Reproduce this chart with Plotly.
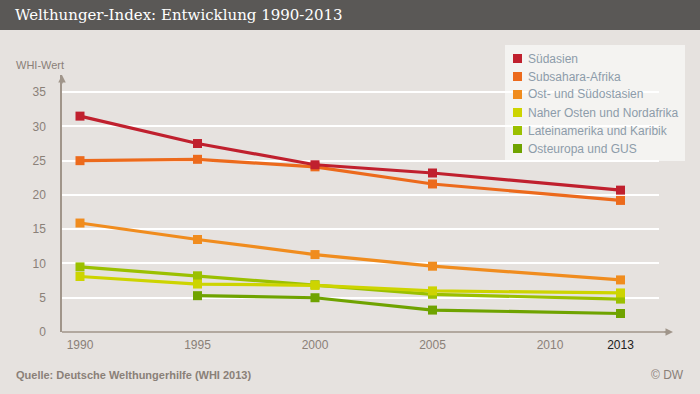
import plotly.graph_objects as go

years = [1990, 1995, 2000, 2005, 2013]
series_names = ["Südasien", "Subsahara-Afrika", "Ost- und Südostasien",
                "Naher Osten und Nordafrika", "Lateinamerika und Karibik", "Osteuropa und GUS"]
suedasien = [31.5, 27.5, 24.4, 23.2, 20.7]
subsahara = [25.0, 25.2, 24.1, 21.6, 19.2]
ostasien = [15.9, 13.5, 11.3, 9.6, 7.6]
nahost = [8.1, 7.0, 6.8, 6.0, 5.7]
lateinamerika = [9.5, 8.2, 6.9, 5.5, 4.8]
osteuropa = [None, 5.3, 5.0, 3.2, 2.7]
colors = ["#c0202e", "#ec6a1c", "#f08c1e", "#cdd400", "#9bc000", "#6fa300"]
x_tickvals = [1990, 1995, 2000, 2005, 2010, 2013]
x_ticktext = ["1990", "1995", "2000", "2005", "2010",
              "<span style='color:#222222'>2013</span>"]
y_tickvals = [0, 5, 10, 15, 20, 25, 30, 35]

all_values = [suedasien, subsahara, ostasien, nahost, lateinamerika, osteuropa]

BG = "#e6e2df"
AX = "#a0958a"
TXT = "#8a8078"
LEG_TXT = "#8d9caa"

fig = go.Figure()
for name, vals, col in reversed(list(zip(series_names, all_values, colors))):
    fig.add_trace(go.Scatter(
        x=years, y=vals, mode="lines+markers", name=name,
        line=dict(color=col, width=3.2),
        marker=dict(symbol="square", size=9, color=col),
        showlegend=False, connectgaps=False, hoverinfo="skip"))

L, R, T, B = 62, 41, 75, 62
W, H = 700, 394
pw, ph = W - L - R, H - T - B
def px(xp):
    return (xp - L) / pw
def py(yp):
    return (H - B - yp) / ph

shapes = [
    dict(type="rect", xref="paper", yref="paper", x0=px(0), x1=px(W), y0=py(30), y1=py(0),
         fillcolor="#5a5856", line=dict(width=0), layer="below"),
    dict(type="rect", xref="paper", yref="paper", x0=px(505), x1=px(685), y0=py(161), y1=py(45),
         fillcolor="#f4f3f1", line=dict(width=0), layer="below"),
    dict(type="line", xref="paper", yref="paper", x0=0, x1=px(668), y0=0, y1=0,
         line=dict(color=AX, width=1.5)),
]
annotations = [
    dict(xref="paper", yref="paper", x=px(13), y=py(15), xanchor="left", yanchor="middle",
         text="Welthunger-Index: Entwicklung 1990-2013", showarrow=False,
         font=dict(family="DejaVu Serif", size=15, color="#ffffff")),
    dict(xref="paper", yref="paper", x=px(14), y=py(65), xanchor="left", yanchor="middle",
         text="WHI-Wert", showarrow=False, font=dict(family="Liberation Sans", size=11, color=TXT)),
    dict(xref="paper", yref="paper", x=px(14), y=py(375), xanchor="left", yanchor="middle",
         text="<b>Quelle: Deutsche Welthungerhilfe (WHI 2013)</b>", showarrow=False,
         font=dict(family="Liberation Sans", size=11, color=TXT)),
    dict(xref="paper", yref="paper", x=px(686), y=py(375), xanchor="right", yanchor="middle",
         text="© DW", showarrow=False, font=dict(family="Liberation Sans", size=12, color=TXT)),
    dict(xref="paper", yref="paper", x=0, y=py(75), ax=0, ay=10, text="", showarrow=True,
         arrowhead=2, arrowsize=1, arrowwidth=1.5, arrowcolor=AX),
    dict(xref="paper", yref="paper", x=px(673), y=0, ax=-10, ay=0, text="", showarrow=True,
         arrowhead=2, arrowsize=1, arrowwidth=1.5, arrowcolor=AX),
]

# manual legend
row0, step = 58.5, 18
for i, (name, col) in enumerate(zip(series_names, colors)):
    cy = row0 + i * step
    shapes.append(dict(type="rect", xref="paper", yref="paper",
                       x0=px(513), x1=px(522), y0=py(cy + 4.5), y1=py(cy - 4.5),
                       fillcolor=col, line=dict(width=0), layer="above"))
    annotations.append(dict(xref="paper", yref="paper", x=px(526), y=py(cy), xanchor="left",
                            yanchor="middle", text=name, showarrow=False,
                            font=dict(family="Liberation Sans", size=12, color=LEG_TXT)))

fig.update_layout(
    width=W, height=H,
    margin=dict(l=L, r=R, t=T, b=B),
    paper_bgcolor=BG, plot_bgcolor=BG,
    font=dict(family="Liberation Sans", size=12, color=TXT),
    shapes=shapes, annotations=annotations, showlegend=False,
    xaxis=dict(range=[1990 - 18 / 23.5, 1990 + (659 - 80) / 23.5],
               tickvals=x_tickvals, ticktext=x_ticktext, showgrid=False, zeroline=False,
               showline=False, ticks="", tickfont=dict(size=12, color=TXT), ticklabelstandoff=4),
    yaxis=dict(range=[0, 37.5], tickvals=y_tickvals, showgrid=True, gridcolor="#ffffff",
               gridwidth=1.5, zeroline=False, showline=True, linecolor=AX, linewidth=1.5,
               ticks="", tickfont=dict(size=12, color=TXT), ticklabelstandoff=12),
)

fig.write_html("out.html", config={"displayModeBar": False},
               post_script="document.body.style.margin='0';document.body.style.overflow='hidden';")
